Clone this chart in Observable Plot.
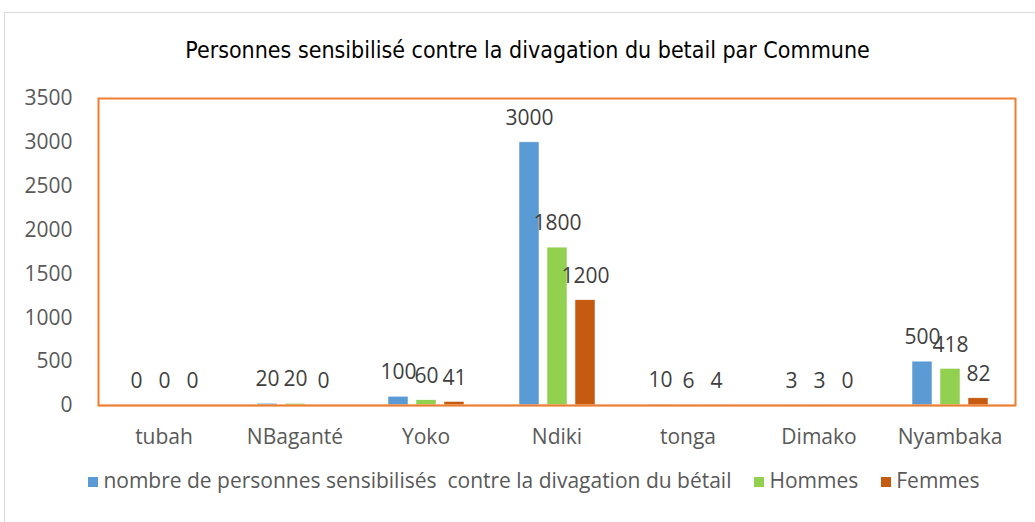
<!DOCTYPE html>
<html>
<head>
<meta charset="utf-8">
<script src="https://cdn.jsdelivr.net/npm/d3@7"></script>
<script src="https://cdn.jsdelivr.net/npm/@observablehq/plot@0.6"></script>
<style>
  html, body { margin: 0; padding: 0; background: #fff; }
  #wrap { position: relative; width: 1035px; height: 522px; overflow: hidden; }
  #border { position: absolute; left: 4px; top: 12px; width: 1040px; height: 520px; border: 1px solid #d9d9d9; box-sizing: border-box; }
  #title { position: absolute; left: 0; top: 37px; width: 1055px; text-align: center;
           font-family: "Liberation Sans Narrow", "DejaVu Sans Condensed", sans-serif; font-size: 23px; color: #000; }
  #chart { position: absolute; left: 0; top: 0; }
  #legend { position: absolute; left: 10px; top: 466px; width: 1071px; text-align: center;
            font-family: "Open Sans", sans-serif; font-size: 21px; color: #595959; white-space: pre; }
  .sw { display: inline-block; width: 10px; height: 10px; margin-right: 5px; vertical-align: 1px; }
  .item { margin-right: 23px; }
</style>
</head>
<body>
<div id="wrap">
  <div id="border"></div>
  <div id="chart"></div>
  <div id="title">Personnes sensibilisé contre la divagation du betail par Commune</div>
  <div id="legend"></div>
</div>
<script>
const communes = ["tubah", "NBaganté", "Yoko", "Ndiki", "tonga", "Dimako", "Nyambaka"];
const seriesNames = ["nombre de personnes sensibilisés  contre la divagation du bétail", "Hommes", "Femmes"];
const totalValues = [0, 20, 100, 3000, 10, 3, 500];
const hommesValues = [0, 20, 60, 1800, 6, 3, 418];
const femmesValues = [0, 0, 41, 1200, 4, 0, 82];
const seriesColors = ["#5B9BD5", "#92D050", "#C55A11"];
const yTicks = [0, 500, 1000, 1500, 2000, 2500, 3000, 3500];

const allValues = [totalValues, hommesValues, femmesValues];
const data = [];
communes.forEach((c, i) => {
  seriesNames.forEach((s, j) => {
    data.push({commune: c, series: s, value: allValues[j][i]});
  });
});

const font = "Open Sans, sans-serif";
const chart = Plot.plot({
  width: 1035,
  height: 470,
  marginTop: 98,
  marginBottom: 65,
  marginLeft: 95,
  marginRight: 18,
  style: {fontFamily: font, fontSize: "21px", color: "#595959", background: "transparent"},
  fx: {domain: communes, padding: 0, label: null, axis: "bottom", tickSize: 0, tickPadding: 24},
  x: {domain: seriesNames, axis: null, paddingInner: 0.3, paddingOuter: 0.96},
  y: {domain: [0, 3500], ticks: yTicks, tickFormat: d => String(d), label: null, tickSize: 0, tickPadding: 26},
  color: {domain: seriesNames, range: seriesColors},
  marks: [
    Plot.barY(data, {fx: "commune", x: "series", y: "value", fill: "series", stroke: "white", strokeWidth: 0.5}),
    Plot.ruleY([0], {stroke: "#F8CBAD", strokeWidth: 2}),
    Plot.frame({stroke: "#ED7D31", strokeWidth: 2, facet: "super"}),
    Plot.text(data, {fx: "commune", x: "series", y: "value", text: d => String(d.value), dy: -24,
      fill: "#404040", fontSize: 21, fontFamily: font})
  ]
});
document.getElementById("chart").appendChild(chart);

const legend = document.getElementById("legend");
seriesNames.forEach((s, i) => {
  const item = document.createElement("span");
  item.className = "item";
  const sw = document.createElement("span");
  sw.className = "sw";
  sw.style.background = seriesColors[i];
  item.appendChild(sw);
  item.appendChild(document.createTextNode(s));
  legend.appendChild(item);
});
</script>
</body>
</html>
